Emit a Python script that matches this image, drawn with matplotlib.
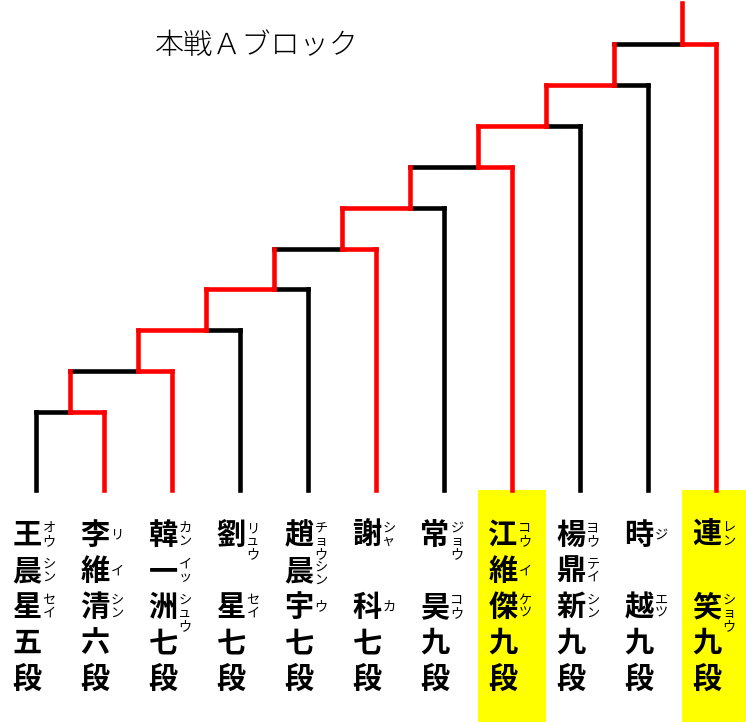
import matplotlib
matplotlib.use("Agg")
import matplotlib.pyplot as plt
from matplotlib.patches import Rectangle

plt.rcParams['font.family'] = ['Noto Sans CJK JP', 'DejaVu Sans']

# 出場者（左から）: 名前の各文字, 読み（文字ごと）, 段位
names = [
    ["王", "晨", "星"],
    ["李", "維", "清"],
    ["韓", "一", "洲"],
    ["劉", "", "星"],
    ["趙", "晨", "宇"],
    ["謝", "", "科"],
    ["常", "", "昊"],
    ["江", "維", "傑"],
    ["楊", "鼎", "新"],
    ["時", "", "越"],
    ["連", "", "笑"],
]
readings = [
    ["オウ", "シン", "セイ"],
    ["リ", "イ", "シン"],
    ["カン", "イッ", "シュウ"],
    ["リュウ", "", "セイ"],
    ["チョウ", "シン", "ウ"],
    ["シャ", "", "カ"],
    ["ジョウ", "", "コウ"],
    ["コウ", "イ", "ケツ"],
    ["ヨウ", "テイ", "シン"],
    ["ジ", "", "エツ"],
    ["レン", "", "ショウ"],
]
dan = ["五", "六", "七", "七", "七", "七", "九", "九", "九", "九", "九"]
# 各試合の勝者（L: 勝ち上がってきた側, R: 新たに登場した側）
winners = ["R", "R", "L", "L", "R", "L", "R", "L", "L", "R"]
highlight = [7, 10]  # 黄色で強調

# レイアウト（ピクセル座標）
W, H = 746, 722
COL0, STEP = 36, 68
LV1, LSTEP = 412, 40.85
BASE = 490
RED, BLACK = "#ff0000", "#000000"
LW = 3.3

fig = plt.figure(figsize=(W / 100, H / 100), dpi=100)
ax = fig.add_axes([0, 0, 1, 1])
ax.set_xlim(0, W)
ax.set_ylim(H, 0)
ax.axis("off")


def col_x(i):
    return COL0 + i * STEP


def level_y(m):
    return LV1 - (m - 1) * LSTEP


def seg(x0, y0, x1, y1, c):
    ax.plot([x0, x1], [y0, y1], color=c, lw=LW, solid_capstyle="projecting",
            zorder=3 if c == RED else 2)


# 黄色の枠
for i in highlight:
    ax.add_patch(Rectangle((col_x(i) - STEP / 2, BASE), STEP, H - BASE,
                           color="#ffff00", zorder=0, lw=0))

# 出場者の縦線
n_match = len(winners)
for i in range(len(names)):
    m = max(i, 1)
    won = winners[m - 1] == ("L" if i == 0 else "R")
    seg(col_x(i), BASE, col_x(i), level_y(m), RED if won else BLACK)

# 試合の横線と勝ち上がり線
for m in range(1, n_match + 1):
    xv = col_x(m - 1) + STEP / 2
    x_left = col_x(0) if m == 1 else col_x(m - 2) + STEP / 2
    x_right = col_x(m)
    y = level_y(m)
    seg(x_left, y, xv, y, RED if winners[m - 1] == "L" else BLACK)
    seg(xv, y, x_right, y, RED if winners[m - 1] == "R" else BLACK)
    y_up = level_y(m + 1) if m < n_match else 3
    seg(xv, y, xv, y_up, RED)

# 名前と読み
rows = [535, 571, 607, 643, 679]
KANA = 13
for i in range(len(names)):
    xc = col_x(i) - 9
    xr = col_x(i) + 13
    chars = names[i] + [dan[i], "段"]
    for r, ch in enumerate(chars):
        if ch:
            ax.text(xc, rows[r], ch, fontsize=21, fontweight="bold",
                    ha="center", va="center", zorder=4)
    last = -100
    for r, kana in enumerate(readings[i]):
        n = len(kana)
        if n == 0:
            continue
        if n <= 2:
            start = rows[r] - (n - 1) * KANA / 2
        else:
            start = rows[r] - KANA / 2
        start = max(start, last + KANA)
        for k, ch in enumerate(kana):
            ax.text(xr, start + k * KANA, ch, fontsize=9.5,
                    ha="center", va="center", zorder=4)
        last = start + (n - 1) * KANA

ax.text(257, 46, "本戦Ａブロック", fontsize=21, fontweight="light",
        ha="center", va="center")

fig.savefig("out.png", dpi=100)
